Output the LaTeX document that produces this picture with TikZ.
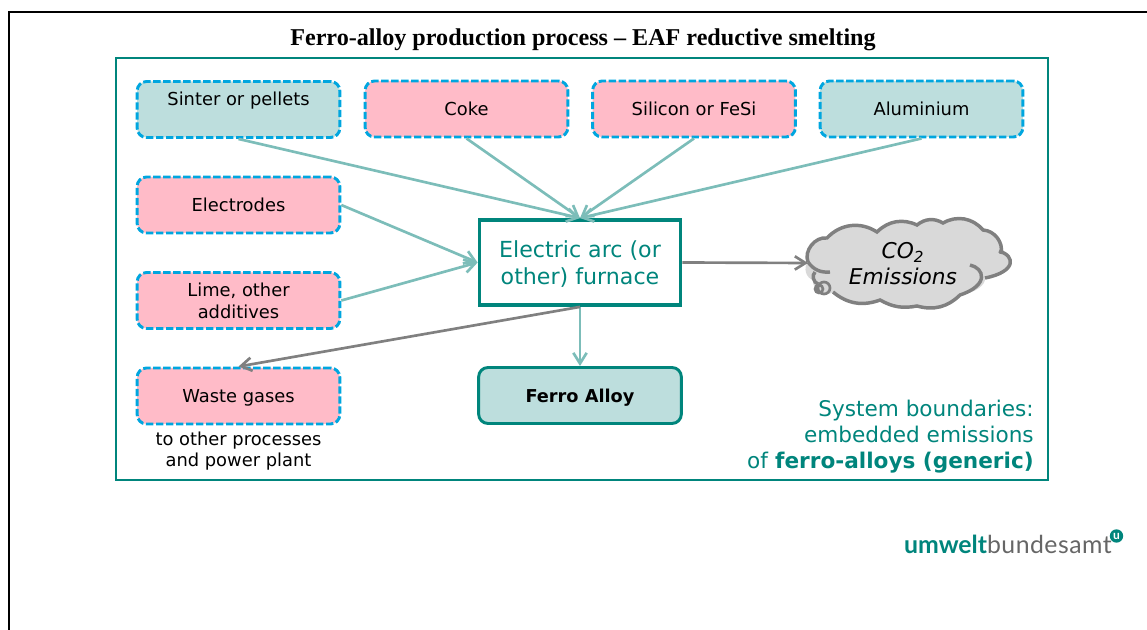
\documentclass[tikz,border=0pt]{standalone}
\usepackage{fontspec}
\setmainfont{DejaVu Sans}
\newfontfamily\titlefont{Liberation Serif}
\newfontfamily\logofont{Lato}
\usetikzlibrary{arrows.meta}
\definecolor{uba}{HTML}{00857C}
\definecolor{ubalight}{HTML}{BDDEDD}
\definecolor{ubapink}{HTML}{FFBBC8}
\definecolor{ubadash}{HTML}{00A6DF}
\definecolor{flowteal}{HTML}{7CBDB9}
\definecolor{flowgrey}{HTML}{808080}
\definecolor{cloudgrey}{HTML}{D9D9D9}
\begin{document}
\begin{tikzpicture}[x=0.75pt,y=-0.75pt,
  inbox/.style={draw=ubadash,line width=2.2pt,dash pattern=on 5.5pt off 2pt,rounded corners=7pt,
    minimum width=152pt,minimum height=42pt,inner sep=0pt,align=center,font=\fontsize{13.4}{16.5}\selectfont},
  sinkbox/.style={inbox,fill=ubapink},
  goodbox/.style={inbox,fill=ubalight},
  oneline/.style={text height=12pt,text depth=1.5pt},
  flow/.style={draw=flowteal,line width=2pt,-{Straight Barb[length=8pt,width=10pt]}},
  flowout/.style={flow,draw=flowgrey},
  cloudline/.style={flowgrey,line width=2.6pt}]
\useasboundingbox (0,0) rectangle (1147,630);
\draw [line width=2pt] (9,630) -- (9,12) -- (1147,12);
\node (title) at (583,39.5) {\titlefont\bfseries\fontsize{18.1}{20}\selectfont Ferro-alloy production process – EAF reductive smelting};
\node (frame) [draw=uba,line width=1.4pt,minimum width=699pt,minimum height=316.5pt,inner sep=0pt] at (582,269) {};

\node (sinter) [goodbox] at (238.5,109.5) {Sinter or pellets\\\mbox{}};
\node (coke) [sinkbox,oneline] at (466.5,109) {Coke};
\node (silicon) [sinkbox,oneline] at (694,109) {Silicon or FeSi};
\node (alu) [goodbox,oneline] at (921.5,109) {Aluminium};
\node (electrodes) [sinkbox,oneline] at (238.5,205) {Electrodes};
\node (lime) [sinkbox] at (238.5,300.5) {Lime, other\\additives};
\node (waste) [sinkbox,oneline] at (238.5,396) {Waste gases};
\node (wastenote) [align=center,font=\fontsize{13.4}{15.7}\selectfont] at (238.5,451) {to other processes\\and power plant};
\node (furnace) [draw=uba,line width=2.6pt,minimum width=151pt,minimum height=64pt,inner sep=0pt,align=center,
  text=uba,font=\fontsize{16.6}{20.3}\selectfont,text height=35pt] at (580,262.5) {Electric arc (or\\other) furnace};
\node (alloy) [draw=uba,fill=ubalight,line width=2.2pt,rounded corners=7pt,minimum width=152pt,minimum height=42pt,
  inner sep=0pt,font=\fontsize{13.3}{16}\selectfont\bfseries,oneline] at (580,395.5) {Ferro Alloy};
\node (boundary) [anchor=south east,align=right,text=uba,inner sep=0pt,font=\fontsize{16.2}{19.5}\selectfont] at (1034,473.5)
  {System boundaries:\\embedded emissions\\of \textbf{ferro-alloys (generic)}};

\fill [cloudgrey] (808,262)
  to[bend left=60] (827,238) to[bend left=40] (877,232) to[bend left=35] (917,225)
  to[bend left=35] (943,223) to[bend left=40] (983,230) to[bend left=50] (1003,252)
  .. controls (1016,256) and (1016,272) .. (985,278)
  .. controls (986,285) and (975,293) .. (960,295) to[bend left=30] (917,306)
  to[bend left=20] (880,300) to[bend left=30] (833,292) to[bend left=70] (813,280)
  to[bend left=60] (808,262) -- cycle;
\draw [cloudline]
  (808,262) to[bend left=60] (827,238) to[bend left=40] (877,232) to[bend left=35] (917,225)
  to[bend left=35] (943,223) to[bend left=40] (983,230) to[bend left=50] (1001,254)
  (999,251) .. controls (1016,256) and (1016,272) .. (985,278);
\draw [cloudline]
  (970,265) .. controls (984,268) and (990,285) .. (960,295)
  to[bend left=30] (917,306) to[bend left=20] (880,300) to[bend left=30] (833,292);
\draw [cloudline]
  (808,262) to[bend right=30] (830,272) (815,272) to[bend right=60] (818,284);
\draw [flowgrey,line width=2pt] (824,288) circle (6) (819,289) circle (4);
\node (cloud) [align=center,font=\fontsize{16.3}{19}\selectfont\itshape,inner sep=0pt] at (903,263.5) {CO\textsubscript{2}\\Emissions};
\coordinate (cloudleft) at (808,263);

\draw [flow] (sinter.south) -- (furnace.north);
\draw [flow] (coke.south) -- (furnace.north);
\draw [flow] (silicon.south) -- (furnace.north);
\draw [flow] (alu.south) -- (furnace.north);
\draw [flow] (electrodes.east) -- (furnace.west);
\draw [flow] (lime.east) -- (furnace.west);
\draw [flow] (furnace.south) -- (alloy.north);
\draw [flowout] (furnace.south) -- (waste.north);
\draw [flowout] (furnace.east) -- (cloudleft);

\node (logo) [anchor=base east,inner sep=0pt,font=\fontsize{18.6}{20}\selectfont\logofont] at (1112,554)
  {\textcolor{uba}{\bfseries umwelt}\textcolor{black!60}{\addfontfeature{LetterSpace=2}bundesamt}};
\node (logomark) [circle,fill=uba,minimum size=10pt,inner sep=0pt,text=white,
  font=\fontsize{9}{9}\selectfont\logofont\bfseries] at (1116.5,536) {u};
\end{tikzpicture}
\end{document}
